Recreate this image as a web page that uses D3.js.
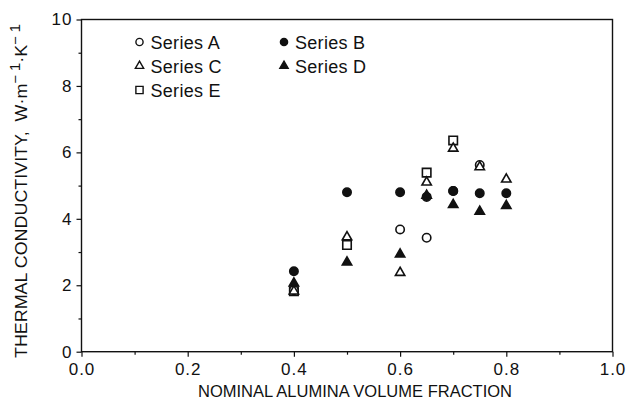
<!DOCTYPE html>
<html>
<head>
<meta charset="utf-8">
<script src="https://d3js.org/d3.v7.min.js"></script>
<style>
  body { margin: 0; background: #fff; }
  svg text { font-family: "Liberation Sans", Arial, sans-serif; fill: #111; }
</style>
</head>
<body>
<div id="chart"></div>
<script>
// values
const fractions = [0.4, 0.5, 0.6, 0.65, 0.7, 0.75, 0.8];
const seriesA = [[0.4, 1.85], [0.6, 3.68], [0.65, 3.43], [0.7, 4.84], [0.75, 5.62]];
const seriesB = [[0.4, 2.42], [0.5, 4.80], [0.6, 4.80], [0.65, 4.66], [0.7, 4.84], [0.75, 4.77], [0.8, 4.77]];
const seriesC = [[0.4, 1.82], [0.5, 3.45], [0.6, 2.38], [0.65, 5.10], [0.7, 6.12], [0.75, 5.56], [0.8, 5.19]];
const seriesD = [[0.4, 2.06], [0.5, 2.69], [0.6, 2.93], [0.65, 4.70], [0.7, 4.42], [0.75, 4.22], [0.8, 4.39]];
const seriesE = [[0.4, 1.82], [0.5, 3.21], [0.65, 5.39], [0.7, 6.36]];
const xTicks = [0, 0.2, 0.4, 0.6, 0.8, 1.0];
const yTicks = [0, 2, 4, 6, 8, 10];

const width = 626, height = 401;
const margin = {top: 19.5, right: 13.5, bottom: 49.3, left: 81.5};

const svg = d3.select("#chart").append("svg")
    .attr("width", width)
    .attr("height", height);

const x = d3.scaleLinear().domain([0, 1]).range([margin.left, width - margin.right]);
const y = d3.scaleLinear().domain([0, 10]).range([height - margin.bottom, margin.top]);

// frame
svg.append("rect")
    .attr("x", x(0)).attr("y", y(10))
    .attr("width", x(1) - x(0)).attr("height", y(0) - y(10))
    .attr("fill", "none").attr("stroke", "#111").attr("stroke-width", 1.4);

// x axis
const xAxis = svg.append("g")
    .attr("transform", `translate(0,${y(0)})`)
    .call(d3.axisBottom(x).tickValues(xTicks).tickFormat(d3.format(".1f")).tickSize(5).tickPadding(6));
svg.append("g")
    .attr("transform", `translate(0,${y(0)})`)
    .call(d3.axisBottom(x).tickValues(d3.range(0.1, 1, 0.2)).tickFormat("").tickSize(3));

// y axis
const yAxis = svg.append("g")
    .attr("transform", `translate(${x(0)},0)`)
    .call(d3.axisLeft(y).tickValues(yTicks).tickFormat(d3.format("d")).tickSize(5).tickPadding(4));
svg.append("g")
    .attr("transform", `translate(${x(0)},0)`)
    .call(d3.axisLeft(y).tickValues([1, 3, 5, 7, 9]).tickFormat("").tickSize(3));

svg.selectAll(".domain").remove();
svg.selectAll(".tick line").attr("stroke", "#111").attr("stroke-width", 1.2);
xAxis.selectAll("text").attr("font-size", 17).attr("letter-spacing", 1).attr("fill", "#111");
yAxis.selectAll("text").attr("font-size", 17).attr("letter-spacing", 1).attr("fill", "#111");

// axis titles
svg.append("text")
    .attr("x", (x(0) + x(1)) / 2 + 8)
    .attr("y", 397)
    .attr("text-anchor", "middle")
    .attr("font-size", 17)
    .attr("textLength", 314)
    .attr("lengthAdjust", "spacingAndGlyphs")
    .text("NOMINAL ALUMINA VOLUME FRACTION");

const yt = svg.append("text")
    .attr("transform", "translate(27,358) rotate(-90)")
    .attr("font-size", 17)
    .attr("textLength", 334)
    .attr("lengthAdjust", "spacingAndGlyphs");
yt.append("tspan").text("THERMAL CONDUCTIVITY,\u00a0\u00a0W\u00b7m");
yt.append("tspan").attr("dy", -7).attr("font-size", 14).text("\u2212 1");
yt.append("tspan").attr("dy", 7).text("\u00b7K");
yt.append("tspan").attr("dy", -7).attr("font-size", 14).text("\u2212 1");

// markers
const tri = d3.symbol().type(d3.symbolTriangle).size(38);
const sq = d3.symbol().type(d3.symbolSquare).size(72);
const triLeg = d3.symbol().type(d3.symbolTriangle).size(30);
const sqLeg = d3.symbol().type(d3.symbolSquare).size(52);

function drawSeries(data, kind, filled) {
  const g = svg.append("g");
  const fill = filled ? "#111" : "#fff";
  if (kind === "circle") {
    g.selectAll("circle").data(data).join("circle")
      .attr("cx", d => x(d[0])).attr("cy", d => y(d[1]))
      .attr("r", filled ? 4.2 : 4.2)
      .attr("fill", fill).attr("stroke", "#111").attr("stroke-width", 1.6);
  } else {
    g.selectAll("path").data(data).join("path")
      .attr("d", kind === "triangle" ? tri : sq)
      .attr("transform", d => `translate(${x(d[0])},${y(d[1])})`)
      .attr("fill", fill).attr("stroke", "#111").attr("stroke-width", 1.6);
  }
}

drawSeries(seriesE, "square", false);
drawSeries(seriesA, "circle", false);
drawSeries(seriesC, "triangle", false);
drawSeries(seriesB, "circle", true);
drawSeries(seriesD, "triangle", true);

// legend
const legendItems = [
  {name: "Series A", kind: "circle", filled: false, col: 0, row: 0},
  {name: "Series B", kind: "circle", filled: true, col: 1, row: 0},
  {name: "Series C", kind: "triangle", filled: false, col: 0, row: 1},
  {name: "Series D", kind: "triangle", filled: true, col: 1, row: 1},
  {name: "Series E", kind: "square", filled: false, col: 0, row: 2}
];
const leg = svg.append("g");
legendItems.forEach(it => {
  const mx = it.col === 0 ? 139.5 : 284;
  const my = 42 + it.row * 24;
  const fill = it.filled ? "#111" : "#fff";
  if (it.kind === "circle") {
    leg.append("circle").attr("cx", mx).attr("cy", my).attr("r", 3.6)
      .attr("fill", fill).attr("stroke", "#111").attr("stroke-width", 1.4);
  } else {
    leg.append("path").attr("d", it.kind === "triangle" ? triLeg : sqLeg)
      .attr("transform", `translate(${mx},${my})`)
      .attr("fill", fill).attr("stroke", "#111").attr("stroke-width", 1.4);
  }
  leg.append("text").attr("x", mx + 11).attr("y", my + 6.5)
    .attr("font-size", 18).attr("letter-spacing", 0.3).text(it.name);
});
</script>
</body>
</html>
